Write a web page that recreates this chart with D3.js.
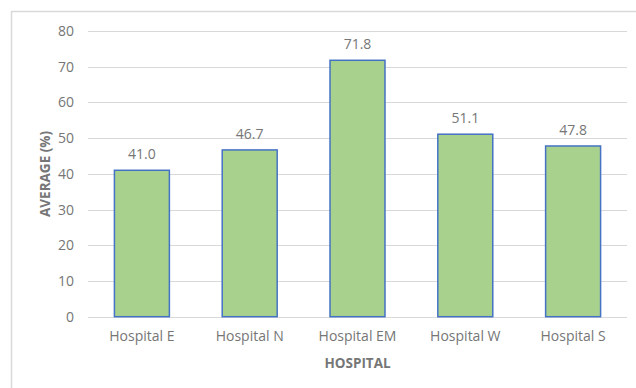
<!DOCTYPE html>
<html>
<head>
<meta charset="utf-8">
<script src="https://cdn.jsdelivr.net/npm/d3@7"></script>
<style>
  body { margin: 0; background: #fff; }
  text { font-family: "Open Sans", "Liberation Sans", sans-serif; fill: #767676; }
</style>
</head>
<body>
<svg id="chart" width="636" height="388"></svg>
<script>
// データ
const hospitals = ['Hospital E', 'Hospital N', 'Hospital EM', 'Hospital W', 'Hospital S'];
const averages = [41.0, 46.7, 71.8, 51.1, 47.8];
const y_ticks = [0, 10, 20, 30, 40, 50, 60, 70, 80];

const svg = d3.select('#chart');

// 外枠 (右と下ははみ出している)
svg.append('rect')
    .attr('x', 11.5).attr('y', 11.5)
    .attr('width', 640).attr('height', 400)
    .attr('fill', 'none')
    .attr('stroke', '#d9d9d9')
    .attr('stroke-width', 1.5);

const x = d3.scaleBand().domain(hospitals).range([88, 627]).paddingInner(0.49).paddingOuter(0.245);
const y = d3.scaleLinear().domain([0, 80]).range([316.7, 31]);

// グリッド線
svg.append('g')
    .selectAll('line')
    .data(y_ticks)
    .join('line')
    .attr('x1', 88).attr('x2', 627)
    .attr('y1', d => Math.round(y(d)) + 0.5)
    .attr('y2', d => Math.round(y(d)) + 0.5)
    .attr('stroke', '#d9d9d9')
    .attr('stroke-width', 1.2);

// Y軸ラベル
const y_axis = svg.append('g')
    .attr('transform', 'translate(88,0)')
    .call(d3.axisLeft(y).tickValues(y_ticks).tickSize(0).tickPadding(14));
y_axis.select('.domain').remove();
y_axis.selectAll('text')
    .style('font-size', '14px')
    .attr('fill', '#767676');

// 棒
svg.append('g')
    .selectAll('rect')
    .data(averages)
    .join('rect')
    .attr('x', (d, i) => x(hospitals[i]))
    .attr('y', d => y(d))
    .attr('width', x.bandwidth())
    .attr('height', d => y(0) - y(d))
    .attr('fill', '#a9d18e')
    .attr('stroke', '#4472c4')
    .attr('stroke-width', 1.5);

// 値ラベル
svg.append('g')
    .selectAll('text')
    .data(averages)
    .join('text')
    .text(d => d.toFixed(1))
    .attr('x', (d, i) => x(hospitals[i]) + x.bandwidth() / 2)
    .attr('y', d => y(d) - 11)
    .attr('text-anchor', 'middle')
    .style('font-size', '14px');

// X軸ラベル
const x_axis = svg.append('g')
    .attr('transform', 'translate(0,316.7)')
    .call(d3.axisBottom(x).tickSize(0).tickPadding(14));
x_axis.select('.domain').remove();
x_axis.selectAll('text')
    .style('font-size', '14px')
    .attr('fill', '#767676');

// 軸タイトル
svg.append('text')
    .text('HOSPITAL')
    .attr('x', 357.5)
    .attr('y', 368)
    .attr('text-anchor', 'middle')
    .style('font-size', '13.5px')
    .style('font-weight', 'bold');

svg.append('text')
    .text('AVERAGE (%)')
    .attr('transform', 'translate(50,174) rotate(-90)')
    .attr('text-anchor', 'middle')
    .style('font-size', '13.5px')
    .style('font-weight', 'bold');
</script>
</body>
</html>
